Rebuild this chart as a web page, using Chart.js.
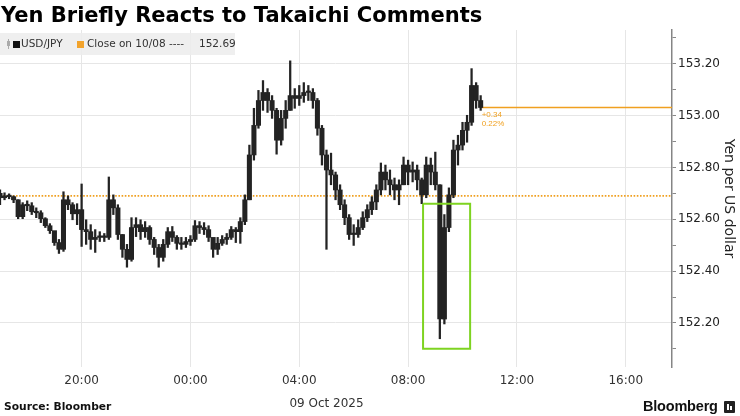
<!DOCTYPE html>
<html><head><meta charset="utf-8">
<script src="https://cdn.jsdelivr.net/npm/chart.js@4.4.0/dist/chart.umd.min.js"></script>
<style>
html,body{margin:0;padding:0;background:#fff;width:740px;height:416px;overflow:hidden;}
body{position:relative;font-family:'DejaVu Sans',sans-serif;color:#222;}
#c{position:absolute;left:0;top:0;}
#title{position:absolute;left:1px;top:3px;font-weight:bold;font-size:21px;color:#000;white-space:nowrap;font-family:'DejaVu Sans';}
#legend{position:absolute;left:0;top:33px;width:235px;height:22px;background:rgba(236,236,236,0.85);font-size:10.5px;color:#333;}
#legend span{position:absolute;top:4px;white-space:nowrap;}
#legend .sq{top:8px;width:7px;height:7px;}
#legend .wick{position:absolute;left:8px;top:6px;width:1px;height:10px;background:#aaa;}
#legend .cbody{position:absolute;left:7px;top:8px;width:3px;height:5px;background:#aaa;}
#source{position:absolute;left:4px;top:400px;font-weight:bold;font-size:10.7px;color:#111;white-space:nowrap;}
#logo{position:absolute;left:643px;top:398px;font-family:'Liberation Sans';font-weight:bold;font-size:14.5px;color:#111;letter-spacing:-0.2px;white-space:nowrap;}
#logoicon{position:absolute;left:724px;top:401px;width:11px;height:12px;background:#222;border-radius:1px;}
#logoicon i{position:absolute;left:3px;top:3px;width:2px;height:6px;background:#fff;}
#logoicon b{position:absolute;left:6px;top:5px;width:2px;height:4px;background:#fff;}
</style>
</head><body>
<canvas id="c" width="740" height="416"></canvas>
<div id="title">Yen Briefly Reacts to Takaichi Comments</div>
<div id="legend">
  <div class="wick"></div><div class="cbody"></div>
  <span class="sq" style="left:13px;background:#111"></span>
  <span style="left:21px">USD/JPY</span>
  <span class="sq" style="left:77px;background:#f2a32c"></span>
  <span style="left:87px">Close on 10/08 ----</span>
  <span style="left:199px">152.69</span>
</div>
<div id="source">Source: Bloomber</div>
<div id="logo">Bloomberg</div>
<div id="logoicon"><i></i><b></b></div>
<script>
// ---- data (hours counted from 00:00 on 8 Oct; 24 = 00:00 on 9 Oct) ----
const barStartHour = 17.0;      // first 10-minute bar
const barStepHours = 1 / 6;     // 10 minutes
const firstOpen = 152.700;
const highs = [152.713,152.702,152.698,152.690,152.675,152.664,152.671,152.664,152.644,152.633,
152.606,152.583,152.545,152.522,152.706,152.690,152.664,152.660,152.736,152.598,
152.579,152.560,152.552,152.545,152.763,152.694,152.656,152.541,152.503,152.606,
152.606,152.598,152.591,152.575,152.530,152.503,152.522,152.568,152.572,152.537,
152.530,152.530,152.537,152.595,152.591,152.587,152.575,152.522,152.530,152.537,
152.545,152.572,152.568,152.606,152.694,152.886,153.028,153.097,153.135,153.104,
153.077,153.028,153.020,153.058,153.211,153.104,153.116,153.127,153.116,153.104,
153.066,152.962,152.867,152.855,152.782,152.733,152.675,152.618,152.579,152.598,
152.629,152.656,152.687,152.733,152.817,152.809,152.790,152.759,152.752,152.840,
152.828,152.821,152.809,152.759,152.840,152.836,152.859,152.733,152.618,152.721,
152.905,152.924,152.974,153.001,153.181,153.127,153.077];
const lows = [152.656,152.675,152.679,152.664,152.602,152.602,152.633,152.618,152.606,152.587,
152.568,152.545,152.499,152.468,152.476,152.637,152.598,152.579,152.495,152.503,
152.484,152.472,152.514,152.514,152.522,152.618,152.522,152.453,152.415,152.438,
152.533,152.522,152.530,152.503,152.464,152.415,152.438,152.491,152.514,152.484,
152.484,152.491,152.499,152.514,152.545,152.541,152.514,152.453,152.464,152.499,
152.503,152.522,152.510,152.507,152.579,152.675,152.828,152.951,153.020,153.012,
152.989,152.851,152.886,152.951,153.020,153.028,153.039,153.051,153.058,153.028,
152.924,152.809,152.484,152.733,152.675,152.637,152.579,152.522,152.499,152.530,
152.560,152.591,152.618,152.637,152.694,152.713,152.694,152.675,152.656,152.733,
152.733,152.744,152.713,152.660,152.683,152.733,152.713,152.139,152.196,152.552,
152.683,152.809,152.867,152.897,152.962,153.028,153.020];
const closes = [152.683,152.690,152.687,152.675,152.610,152.656,152.652,152.629,152.625,152.602,
152.575,152.556,152.510,152.484,152.675,152.656,152.621,152.637,152.560,152.552,
152.522,152.530,152.530,152.530,152.675,152.644,152.541,152.484,152.445,152.568,
152.579,152.552,152.568,152.522,152.491,152.453,152.503,152.552,152.530,152.507,
152.503,152.514,152.522,152.575,152.568,152.560,152.530,152.484,152.507,152.522,
152.530,152.560,152.552,152.591,152.675,152.848,152.962,153.058,153.089,153.058,
153.020,152.905,152.989,153.020,153.077,153.066,153.077,153.089,153.089,153.058,
152.951,152.848,152.790,152.771,152.713,152.656,152.606,152.541,152.541,152.568,
152.606,152.637,152.667,152.713,152.782,152.752,152.733,152.713,152.733,152.809,
152.782,152.790,152.752,152.694,152.809,152.782,152.733,152.215,152.568,152.694,
152.867,152.886,152.943,152.974,153.116,153.058,153.031];
const prevClose = 152.69;
const xTickValues = [20, 24, 28, 32, 36, 40];
const xTickLabels = ['20:00', '00:00', '04:00', '08:00', '12:00', '16:00'];
const yTickValues = [152.1,152.2,152.3,152.4,152.5,152.6,152.7,152.8,152.9,153.0,153.1,153.2,153.3];
const yMajorValues = [152.2, 152.4, 152.6, 152.8, 153.0, 153.2];
const yMajorLabels = ['152.20', '152.40', '152.60', '152.80', '153.00', '153.20'];
const xRange = [17.0, 41.7];
const yRange = [152.03, 153.33];
const highlightHours = [32.55, 34.28];
const highlightPrices = [152.10, 152.66];
const dateLabel = '09 Oct 2025';
const dateLabelHour = 29.0;
const yTitle = 'Yen per US dollar';

// ---- colours ----
const candleColor = '#232323';
const orange = '#f0a020';
const green = '#7ed321';
const gridColor = '#e6e6e6';

const times = closes.map((_, i) => barStartHour + i * barStepHours);
const opens = closes.map((c, i) => i === 0 ? firstOpen : closes[i - 1]);
const wickData = times.map((t, i) => ({x: t, y: [lows[i], highs[i]]}));
const bodyData = times.map((t, i) => ({x: t, y: [opens[i], closes[i]]}));
const lastT = times[times.length - 1];
const last = closes[closes.length - 1];

const isMajor = v => yMajorValues.some(m => Math.abs(m - v) < 1e-6);

const annot = {
  id: 'annot',
  afterDraw(chart) {
    const {ctx, scales: {x, y}} = chart;
    const px = x.getPixelForValue(lastT), py = y.getPixelForValue(last);
    const chg = last - prevClose;
    ctx.save();
    ctx.fillStyle = orange;
    ctx.font = '8px "Liberation Sans"';
    ctx.textBaseline = 'top';
    ctx.textAlign = 'left';
    ctx.fillText((chg >= 0 ? '+' : '') + chg.toFixed(2), px + 1, py + 3);
    ctx.fillText((chg / prevClose * 100).toFixed(2) + '%', px + 1, py + 12);
    ctx.fillStyle = '#333';
    ctx.font = '12px "DejaVu Sans"';
    ctx.textAlign = 'center';
    ctx.textBaseline = 'middle';
    ctx.fillText(dateLabel, x.getPixelForValue(dateLabelHour), 404);
    ctx.restore();
  }
};

new Chart(document.getElementById('c'), {
  type: 'bar',
  data: {
    datasets: [
      {type: 'line', data: [{x: highlightHours[0], y: highlightPrices[1]}, {x: highlightHours[1], y: highlightPrices[1]},
        {x: highlightHours[1], y: highlightPrices[0]}, {x: highlightHours[0], y: highlightPrices[0]},
        {x: highlightHours[0], y: highlightPrices[1]}],
        borderColor: green, borderWidth: 2, pointRadius: 0, tension: 0, order: 0},
      {data: bodyData, backgroundColor: candleColor, barThickness: 4.4, minBarLength: 1.5, grouped: false, borderWidth: 0, order: 1},
      {data: wickData, backgroundColor: candleColor, barThickness: 1.6, grouped: false, borderWidth: 0, order: 2},
      {type: 'line', data: [{x: lastT, y: last}, {x: xRange[1], y: last}], borderColor: orange, borderWidth: 1.3, pointRadius: 0, order: 3},
      {type: 'line', data: [{x: xRange[0], y: prevClose}, {x: xRange[1], y: prevClose}], borderColor: orange, borderWidth: 1.8, borderDash: [1.6, 1.6], pointRadius: 0, order: 4}
    ]
  },
  options: {
    responsive: false,
    animation: false,
    devicePixelRatio: 1,
    layout: {padding: {top: 30, left: 0, right: 0, bottom: 0}},
    plugins: {legend: {display: false}, tooltip: {enabled: false}},
    scales: {
      x: {
        type: 'linear', offset: false, min: xRange[0], max: xRange[1],
        afterBuildTicks: s => { s.ticks = xTickValues.map(v => ({value: v})); },
        afterFit: s => { s.height = 49; },
        grid: {color: gridColor, drawTicks: false, offset: false},
        border: {display: false},
        ticks: {
          padding: 7, maxRotation: 0, autoSkip: false, color: '#333',
          font: {family: 'DejaVu Sans', size: 12},
          callback: v => { const i = xTickValues.indexOf(v); return i >= 0 ? xTickLabels[i] : ''; }
        }
      },
      y: {
        position: 'right', min: yRange[0], max: yRange[1],
        afterBuildTicks: s => { s.ticks = yTickValues.map(v => ({value: v})); },
        afterFit: s => { s.width = 68; },
        grid: {
          color: c => (c.tick && isMajor(c.tick.value)) ? gridColor : 'rgba(0,0,0,0)',
          tickColor: '#888', tickLength: 4, drawTicks: true
        },
        border: {display: true, color: '#858585', width: 1.5},
        ticks: {
          padding: 2, color: '#222', autoSkip: false,
          font: {family: 'DejaVu Sans', size: 12},
          callback: v => { const i = yMajorValues.findIndex(m => Math.abs(m - v) < 1e-6); return i >= 0 ? yMajorLabels[i] : ''; }
        },
        title: {display: true, text: yTitle, color: '#222', font: {family: 'DejaVu Sans', size: 14}, padding: {top: 3, bottom: 0}}
      }
    }
  },
  plugins: [annot]
});
</script>
</body></html>
